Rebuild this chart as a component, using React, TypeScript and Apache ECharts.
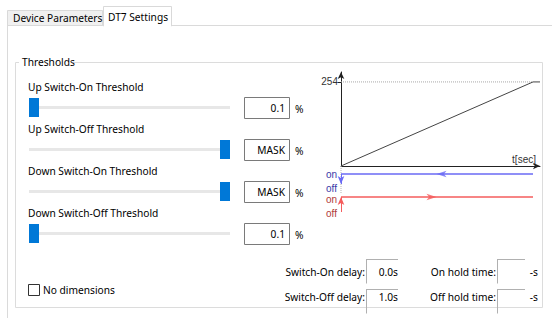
import React, { useEffect, useRef } from 'react';
import * as echarts from 'echarts';

// ---- data ----
const tabLabels = ['Device Parameters', 'DT7 Settings'];
const groupTitle = 'Thresholds';
const thresholdLabels = [
  'Up Switch-On Threshold',
  'Up Switch-Off Threshold',
  'Down Switch-On Threshold',
  'Down Switch-Off Threshold',
];
const thresholdValues = ['0.1', 'MASK', 'MASK', '0.1'];
const sliderFractions = [0, 1, 1, 0];
const delayLabels = ['Switch-On delay:', 'Switch-Off delay:'];
const delayValues = ['0.0s', '1.0s'];
const holdLabels = ['On hold time:', 'Off hold time:'];
const holdValues = ['-s', '-s'];
const checkboxLabel = 'No dimensions';

// ramp diagram (time in s, level 0..254)
const rampTime = [0, 9.65, 10];
const rampLevel = [0, 254, 254];
const levelTicks = [254];
const timeAxisName = 't[sec]';
// switching lanes below the ramp (lane levels on an inverted axis)
const laneLabels = ['on', 'off'];
const upLane = { on: 8, off: 19 };
const downLane = { on: 31, off: 46 };
const laneEndTime = 9.65;
const arrowTime = 4.8;

const UI_FONT = '"Noto Sans", sans-serif';
const UI_SIZE = 10.2;
const CH_FONT = '"Liberation Sans", Arial, sans-serif';

function buildGraphics() {
  const g: any[] = [];
  const line = (x1: number, y1: number, x2: number, y2: number, stroke: string, z = 1) =>
    g.push({ type: 'line', z, shape: { x1, y1, x2, y2 }, style: { stroke, lineWidth: 1 } });
  const text = (x: number, y: number, t: string, o: any = {}) =>
    g.push({
      type: 'text', z: o.z ?? 5, x, y,
      style: {
        text: t, fill: o.fill ?? '#000', fontSize: o.size ?? UI_SIZE, fontFamily: o.font ?? UI_FONT,
        align: o.align ?? 'left', verticalAlign: 'middle',
      },
    });

  // tab panel
  line(7, 25.5, 552, 25.5, '#dadada', 1);
  line(7.5, 25.5, 7.5, 318, '#dadada', 1);
  g.push({ type: 'rect', z: 2, shape: { x: 7.5, y: 10.5, width: 95, height: 15 }, style: { fill: '#f0f0f0', stroke: '#d9d9d9' } });
  g.push({ type: 'rect', z: 3, shape: { x: 103.5, y: 6.5, width: 68, height: 19.5 }, style: { fill: '#ffffff', stroke: '#d9d9d9' } });
  g.push({ type: 'rect', z: 3, shape: { x: 104, y: 24, width: 67, height: 3 }, style: { fill: '#ffffff' } });
  text(13, 18, tabLabels[0]);
  text(108, 16.5, tabLabels[1]);

  // group box
  g.push({ type: 'rect', z: 1, shape: { x: 15.5, y: 62.5, width: 527, height: 245 }, style: { fill: 'none', stroke: '#dcdcdc' } });
  g.push({ type: 'rect', z: 2, shape: { x: 19, y: 58, width: 54, height: 9 }, style: { fill: '#ffffff' } });
  text(22, 62, groupTitle);

  // threshold rows
  thresholdLabels.forEach((lab, i) => {
    const ly = 87 + 42 * i;
    const sy = 107.5 + 42 * i;
    text(28, ly, lab);
    g.push({ type: 'rect', z: 2, shape: { x: 29, y: sy - 1.5, width: 201, height: 3 }, style: { fill: '#e7e7e7' } });
    const tx = 29 + sliderFractions[i] * (230 - 29 - 10);
    g.push({ type: 'rect', z: 3, shape: { x: tx, y: sy - 9.5, width: 10, height: 19 }, style: { fill: '#0078d7' } });
    g.push({ type: 'rect', z: 2, shape: { x: 244.5, y: Math.round(sy - 10.5) + 0.5, width: 45, height: 21 }, style: { fill: '#fff', stroke: '#7a7a7a' } });
    text(285, sy, thresholdValues[i], { align: 'right' });
    text(295, sy + 1, '%');
  });

  // checkbox
  g.push({ type: 'rect', z: 2, shape: { x: 28.5, y: 284.5, width: 11, height: 11 }, style: { fill: '#fff', stroke: '#333' } });
  text(43, 290, checkboxLabel);

  // delay / hold fields
  delayLabels.forEach((lab, i) => {
    const cy = 272 + 25 * i;
    const top = 259.5 + 30 * i;
    text(365, cy, lab, { align: 'right' });
    line(366, top, 398, top, '#b0b0b0');
    line(366.5, top, 366.5, top + 24, '#b0b0b0');
    text(398, cy, delayValues[i], { align: 'right' });
  });
  holdLabels.forEach((lab, i) => {
    const cy = 272 + 25 * i;
    const top = 259.5 + 30 * i;
    text(496, cy, lab, { align: 'right' });
    line(497, top, 525, top, '#b0b0b0');
    line(497.5, top, 497.5, top + 24, '#b0b0b0');
    text(538, cy, holdValues[i], { align: 'right' });
  });

  // lane labels
  const ls = 10;
  text(337, 174, laneLabels[0], { align: 'right', fill: '#3a3aa8', size: ls, font: CH_FONT });
  text(337, 188.5, laneLabels[1], { align: 'right', fill: '#3a3aa8', size: ls, font: CH_FONT });
  text(337, 199.5, laneLabels[0], { align: 'right', fill: '#b03a3a', size: ls, font: CH_FONT });
  text(337, 213, laneLabels[1], { align: 'right', fill: '#b03a3a', size: ls, font: CH_FONT });
  return g;
}

export default function App() {
  const ref = useRef<HTMLDivElement>(null);
  useEffect(() => {
    document.body.style.margin = '0';
    const chart = echarts.init(ref.current!, undefined, { renderer: 'svg' });
    const blue = '#6a6af5';
    const red = '#f55c5c';
    const option: any = {
      animation: false,
      backgroundColor: '#ffffff',
      graphic: buildGraphics(),
      grid: [
        { left: 341, top: 72, width: 199, height: 94 },
        { left: 341, top: 166, width: 199, height: 50 },
      ],
      xAxis: [
        {
          gridIndex: 0, type: 'value', min: 0, max: 10,
          name: timeAxisName, nameLocation: 'end', nameGap: -4,
          nameTextStyle: { align: 'right', verticalAlign: 'bottom', fontSize: 10, color: '#333', fontFamily: CH_FONT, padding: [0, 0, 2, 0] },
          axisLine: { show: true, symbol: ['none', 'arrow'], symbolSize: [5, 7], lineStyle: { color: '#222', width: 1 } },
          axisTick: { show: false }, axisLabel: { show: false }, splitLine: { show: false },
        },
        { gridIndex: 1, type: 'value', min: 0, max: 10, show: false },
      ],
      yAxis: [
        {
          gridIndex: 0, type: 'value', min: 0, max: 284,
          axisLine: { show: true, symbol: ['none', 'arrow'], symbolSize: [5, 7], lineStyle: { color: '#222', width: 1 } },
          axisTick: { show: true, length: 3, customValues: levelTicks, lineStyle: { color: '#222' } },
          axisLabel: { show: true, customValues: levelTicks, fontSize: 10, color: '#333', fontFamily: CH_FONT, margin: 3 },
          splitLine: { show: false },
        },
        { gridIndex: 1, type: 'value', min: 0, max: 50, inverse: true, show: false },
      ],
      series: [
        {
          type: 'line', xAxisIndex: 0, yAxisIndex: 0, symbol: 'none', silent: true,
          data: [[rampTime[0], rampLevel[1]], [rampTime[1], rampLevel[1]]],
          lineStyle: { color: '#a8a8a8', width: 1, type: [1, 1] },
        },
        {
          type: 'line', xAxisIndex: 0, yAxisIndex: 0, symbol: 'none', silent: true,
          data: rampTime.map((t, i) => [t, rampLevel[i]]),
          lineStyle: { color: '#444', width: 1 },
        },
        {
          type: 'line', xAxisIndex: 1, yAxisIndex: 1, symbol: 'none', silent: true,
          data: [[0, 0], [0, (upLane.off + downLane.on) / 2 + 2]],
          lineStyle: { color: '#b5b5b5', width: 1, type: [1, 1] },
        },
        {
          type: 'line', xAxisIndex: 1, yAxisIndex: 1, symbol: 'none', silent: true,
          data: [[0, upLane.on], [laneEndTime, upLane.on]],
          lineStyle: { color: blue, width: 1.5 },
          markLine: {
            silent: true, symbol: ['none', 'arrow'], symbolSize: [5, 8], label: { show: false },
            lineStyle: { color: blue, width: 1, type: 'solid' },
            data: [[{ coord: [0, upLane.on] }, { coord: [0, upLane.off - 1] }]],
          },
        },
        {
          type: 'line', xAxisIndex: 1, yAxisIndex: 1, symbol: 'none', silent: true,
          data: [[0, downLane.on], [laneEndTime, downLane.on]],
          lineStyle: { color: red, width: 1.5 },
          markLine: {
            silent: true, symbol: ['none', 'arrow'], symbolSize: [5, 8], label: { show: false },
            lineStyle: { color: red, width: 1, type: 'solid' },
            data: [[{ coord: [0, downLane.off] }, { coord: [0, downLane.on] }]],
          },
        },
        {
          type: 'scatter', xAxisIndex: 1, yAxisIndex: 1, silent: true,
          symbol: 'arrow', symbolSize: [5, 10], symbolRotate: 90,
          itemStyle: { color: blue }, data: [[arrowTime, upLane.on]],
        },
        {
          type: 'scatter', xAxisIndex: 1, yAxisIndex: 1, silent: true,
          symbol: 'arrow', symbolSize: [5, 10], symbolRotate: -90,
          itemStyle: { color: red }, data: [[arrowTime, downLane.on]],
        },
      ],
    };
    chart.setOption(option);
    return () => chart.dispose();
  }, []);
  return <div ref={ref} style={{ position: 'absolute', left: 0, top: 0, width: 552, height: 318 }} />;
}
